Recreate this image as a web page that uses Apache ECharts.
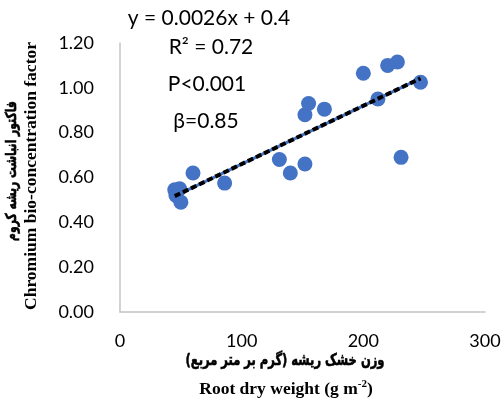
<!DOCTYPE html>
<html>
<head>
<meta charset="utf-8">
<script src="https://cdn.jsdelivr.net/npm/echarts@6/dist/echarts.min.js"></script>
<style>
  html, body { margin: 0; padding: 0; background: #fff; }
  #chart { width: 504px; height: 405px; }
</style>
</head>
<body>
<div id="chart"></div>
<script>
// Root dry weight (g m-2) and chromium bio-concentration factor per sample
const rootWeight = [45, 46, 49, 50, 60, 86, 131, 140, 152, 152, 155, 168, 200, 212, 220, 228, 231, 247];
const bcf        = [0.545, 0.52, 0.55, 0.49, 0.62, 0.575, 0.68, 0.62, 0.66, 0.88, 0.93, 0.905, 1.065, 0.95, 1.10, 1.115, 0.69, 1.025];

// Fitted linear trend
const slope = 0.0026;
const intercept = 0.4;

const xTicks = [0, 100, 200, 300];
const yTicks = [0, 0.2, 0.4, 0.6, 0.8, 1.0, 1.2];

const statLines = ['y = 0.0026x + 0.4', 'R² = 0.72', 'P<0.001', 'β=0.85'];

const xMin = Math.min(...rootWeight), xMax = Math.max(...rootWeight);
const trend = [[xMin, slope * xMin + intercept], [xMax, slope * xMax + intercept]];

const chart = echarts.init(document.getElementById('chart'));
const sans = 'Lato, "Open Sans", sans-serif';
const serif = '"Liberation Serif", "Times New Roman", serif';
const arabic = '"DejaVu Sans", sans-serif';
const tickFont = { fontFamily: sans, fontSize: 18, color: '#000' };
const statFont = '21px ' + sans;

function stat(text, x, y) {
  return { type: 'text', x: x, y: y, style: { text: text, font: statFont, fill: '#000', align: 'center', verticalAlign: 'middle' } };
}

function persian(text, x, y, size, squeeze, rotation) {
  return {
    type: 'text', x: x, y: y, rotation: rotation || 0, scaleX: squeeze,
    style: { text: text, font: 'bold ' + size + 'px ' + arabic, fill: '#000',
             stroke: '#000', lineWidth: 0.6, align: 'center', verticalAlign: 'middle' }
  };
}

chart.setOption({
  animation: false,
  grid: { left: 120, right: 19, top: 43, bottom: 93 },
  xAxis: {
    type: 'value', min: xTicks[0], max: xTicks[xTicks.length - 1], interval: 100,
    axisLine: { lineStyle: { color: '#c4c4c4', width: 1.5 } },
    axisTick: { show: false }, splitLine: { show: false },
    axisLabel: Object.assign({ margin: 20 }, tickFont)
  },
  yAxis: {
    type: 'value', min: yTicks[0], max: yTicks[yTicks.length - 1], interval: 0.2,
    axisLine: { show: true, lineStyle: { color: '#c4c4c4', width: 1.5 } },
    axisTick: { show: false }, splitLine: { show: false },
    axisLabel: Object.assign({ margin: 26, formatter: v => v.toFixed(2) }, tickFont)
  },
  series: [
    {
      type: 'scatter',
      data: rootWeight.map((x, i) => [x, bcf[i]]),
      symbolSize: 15,
      itemStyle: { color: '#4472C4', opacity: 1 },
      z: 2
    },
    {
      type: 'line', data: trend, symbol: 'none',
      lineStyle: { color: '#4472C4', width: 3 }, z: 3
    },
    {
      type: 'line', data: trend, symbol: 'none',
      lineStyle: { color: '#000', width: 4, type: [6, 3] }, z: 4
    }
  ],
  graphic: [
    stat(statLines[0], 209, 18),
    stat(statLines[1], 211, 47),
    stat(statLines[2], 207, 84),
    stat(statLines[3], 206, 121),
    // x-axis title (Persian + English)
    persian('وزن خشک ریشه (گرم بر متر مربع)', 285, 361, 16, 0.72),
    { type: 'text', x: 286, y: 389, style: {
        text: '{a|Root dry weight (g m}{s|-2}{a|)}', fill: '#000', align: 'center', verticalAlign: 'middle',
        rich: {
          a: { font: 'bold 17.5px ' + serif, fill: '#000' },
          s: { font: 'bold 11px ' + serif, fill: '#000', verticalAlign: 'top', padding: [0, 0, 9, 0] }
        } } },
    // y-axis title (Persian + English), rotated
    persian('فاکتور انباشت ریشه کروم', 12, 171, 15, 0.72, Math.PI / 2),
    { type: 'text', x: 31, y: 176, rotation: Math.PI / 2, style: { text: 'Chromium bio-concentration factor', font: 'bold 17.5px ' + serif, fill: '#000', align: 'center', verticalAlign: 'middle' } }
  ]
});
</script>
</body>
</html>
